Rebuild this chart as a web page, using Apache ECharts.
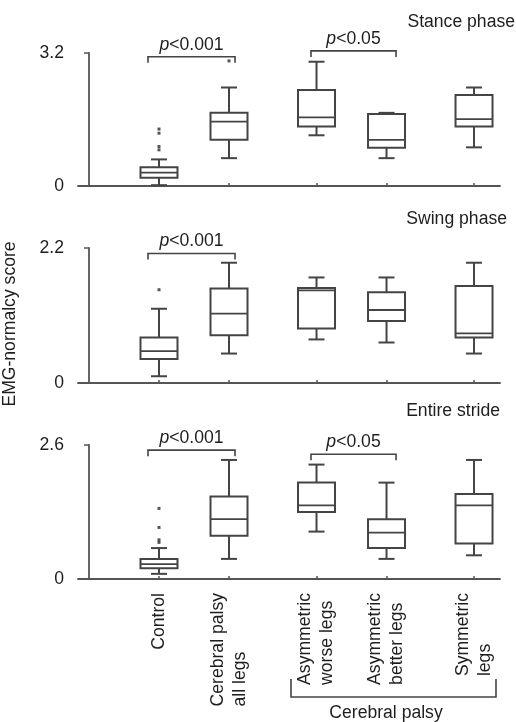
<!DOCTYPE html>
<html>
<head>
<meta charset="utf-8">
<script src="https://cdn.jsdelivr.net/npm/echarts@6/dist/echarts.min.js"></script>
<style>
html,body{margin:0;padding:0;background:#fff;}
#chart{width:516px;height:722px;}
</style>
</head>
<body>
<div id="chart"></div>
<script>
// ---------------- DATA ----------------
const categories = ['Control', 'Cerebral palsy\nall legs', 'Asymmetric\nworse legs', 'Asymmetric\nbetter legs', 'Symmetric\nlegs'];
const panelTitles = ['Stance phase', 'Swing phase', 'Entire stride'];
const yMaxTicks = [3.2, 2.2, 2.6];
const yAxisTitle = 'EMG-normalcy score';
const groupLabel = 'Cerebral palsy';

// [min, q1, median, q3, max] per category
const stanceBoxes = [
  [0.02, 0.20, 0.32, 0.45, 0.64],
  [0.67, 1.11, 1.55, 1.76, 2.37],
  [1.22, 1.43, 1.65, 2.31, 2.99],
  [0.67, 0.92, 1.11, 1.73, 1.76],
  [0.93, 1.43, 1.61, 2.19, 2.37]
];
const swingBoxes = [
  [0.11, 0.39, 0.52, 0.74, 1.21],
  [0.48, 0.78, 1.13, 1.54, 1.96],
  [0.71, 0.89, 1.51, 1.55, 1.72],
  [0.66, 1.01, 1.19, 1.48, 1.72],
  [0.48, 0.74, 0.81, 1.58, 1.96]
];
const strideBoxes = [
  [0.10, 0.21, 0.29, 0.39, 0.60],
  [0.39, 0.84, 1.16, 1.60, 2.31],
  [0.92, 1.30, 1.43, 1.87, 2.22],
  [0.39, 0.60, 0.90, 1.16, 1.87],
  [0.46, 0.69, 1.43, 1.65, 2.31]
];
// outliers: [categoryIndex, value]
const stanceOutliers = [[0, 1.37], [0, 1.27], [0, 0.95], [0, 0.87], [1, 3.01]];
const swingOutliers = [[0, 1.52]];
const strideOutliers = [[0, 1.37], [0, 1.00], [0, 0.76], [0, 0.71]];
// significance brackets: [fromCategory, toCategory, value of bracket line, label]
const stanceBrackets = [[0, 1, 3.11, 'p<0.001'], [2, 3, 3.25, 'p<0.05']];
const swingBrackets = [[0, 1, 2.11, 'p<0.001']];
const strideBrackets = [[0, 1, 2.50, 'p<0.001'], [2, 3, 2.42, 'p<0.05']];

// ---------------- LAYOUT ----------------
const xPositions = [1, 2, 3.25, 4.25, 5.5];
const xMin = -0.157, xMax = 5.871;
const bracketOffsets = [[-0.157, 0.086], [-0.079, 0.136]]; // by bracket order within panel
const gridsPx = [
  {top: 53, height: 133},
  {top: 248, height: 135},
  {top: 445, height: 134}
];
const titlePos = [{right: 1, top: 13}, {right: 9, top: 210}, {right: 16, top: 402}];
const FONT = '"Liberation Sans", Arial, Helvetica, sans-serif';
const FS = 17.6;
const TXT = '#1e1e1e';
const LINE = '#444';

const panels = [
  {boxes: stanceBoxes, outliers: stanceOutliers, brackets: stanceBrackets},
  {boxes: swingBoxes, outliers: swingOutliers, brackets: swingBrackets},
  {boxes: strideBoxes, outliers: strideOutliers, brackets: strideBrackets}
];

function renderBox(params, api) {
  const x = api.value(0);
  const pMin = api.coord([x, api.value(1)]);
  const pQ1 = api.coord([x, api.value(2)]);
  const pMed = api.coord([x, api.value(3)]);
  const pQ3 = api.coord([x, api.value(4)]);
  const pMax = api.coord([x, api.value(5)]);
  const cx = pMed[0];
  const hw = 18.5, cw = 8;
  const st = {stroke: LINE, lineWidth: 2, fill: null};
  return {
    type: 'group',
    children: [
      {type: 'line', shape: {x1: cx, y1: pMax[1], x2: cx, y2: pQ3[1]}, style: st},
      {type: 'line', shape: {x1: cx, y1: pQ1[1], x2: cx, y2: pMin[1]}, style: st},
      {type: 'line', shape: {x1: cx - cw, y1: pMax[1], x2: cx + cw, y2: pMax[1]}, style: st},
      {type: 'line', shape: {x1: cx - cw, y1: pMin[1], x2: cx + cw, y2: pMin[1]}, style: st},
      {type: 'rect', shape: {x: cx - hw, y: pQ3[1], width: 2 * hw, height: pQ1[1] - pQ3[1]}, style: {stroke: LINE, lineWidth: 2, fill: '#fff'}},
      {type: 'line', shape: {x1: cx - hw, y1: pMed[1], x2: cx + hw, y2: pMed[1]}, style: {stroke: LINE, lineWidth: 1.8}}
    ]
  };
}

function renderBracket(params, api) {
  const x1 = api.value(0), x2 = api.value(1), y = api.value(2);
  const p1 = api.coord([x1, y]);
  const p2 = api.coord([x2, y]);
  const label = bracketLabels[params.seriesIndex][params.dataIndex] || '';
  const leg = 6;
  const txt = label.replace(/^p/, '');
  return {
    type: 'group',
    children: [
      {type: 'polyline', shape: {points: [[p1[0], p1[1] + leg], [p1[0], p1[1]], [p2[0], p2[1]], [p2[0], p2[1] + leg]]},
        style: {stroke: LINE, lineWidth: 1.6, fill: null}},
      {type: 'text', x: (p1[0] + p2[0]) / 2, y: p1[1] - 12,
        style: {rich: {i: {fontStyle: 'italic', fontSize: FS, fontFamily: FONT, fill: TXT}, n: {fontSize: FS, fontFamily: FONT, fill: TXT}},
          text: '{i|p}{n|' + txt + '}', align: 'center', verticalAlign: 'middle'}}
    ]
  };
}

const bracketLabels = {};
const grid = [], xAxis = [], yAxis = [], series = [], title = [];
panels.forEach((pn, i) => {
  grid.push({left: 78, width: 422, top: gridsPx[i].top, height: gridsPx[i].height});
  const isBottom = i === panels.length - 1;
  xAxis.push({
    type: 'value', gridIndex: i, min: xMin, max: xMax,
    splitLine: {show: false},
    axisLine: {show: true, lineStyle: {color: '#555', width: 1.8}},
    axisTick: {show: true, inside: true, length: 3, customValues: xPositions, lineStyle: {color: '#555', width: 1.5}},
    axisLabel: isBottom ? {
      show: true, customValues: xPositions, rotate: 90, margin: 14,
      fontSize: FS, fontFamily: FONT, color: TXT, lineHeight: 22,
      formatter: v => {
        const k = xPositions.indexOf(v);
        if (k < 0) return '';
        return categories[k].split('\n').map(s => '{l|' + s + '}').join('\n');
      },
      rich: {l: {align: 'left', fontSize: FS, fontFamily: FONT, color: TXT, lineHeight: 22}}
    } : {show: false}
  });
  yAxis.push({
    type: 'value', gridIndex: i, min: 0, max: yMaxTicks[i], interval: yMaxTicks[i],
    splitLine: {show: false},
    axisLine: {show: true, lineStyle: {color: '#555', width: 1.8}},
    axisTick: {show: true, length: 5, lineStyle: {color: '#555', width: 1.5}},
    axisLabel: {fontSize: FS, fontFamily: FONT, color: TXT, margin: 14}
  });
  title.push({text: panelTitles[i], right: titlePos[i].right, top: titlePos[i].top, padding: 0,
    textStyle: {fontSize: FS, fontWeight: 'normal', fontFamily: FONT, color: TXT}});

  series.push({
    type: 'custom', xAxisIndex: i, yAxisIndex: i, renderItem: renderBox, clip: false,
    data: pn.boxes.map((b, k) => [xPositions[k]].concat(b))
  });
  series.push({
    type: 'scatter', xAxisIndex: i, yAxisIndex: i, symbol: 'rect', symbolSize: 3,
    itemStyle: {color: '#2a2a2a'}, clip: false,
    data: pn.outliers.map(o => [xPositions[o[0]], o[1]])
  });
  bracketLabels[series.length] = pn.brackets.map(b => b[3]);
  series.push({
    type: 'custom', xAxisIndex: i, yAxisIndex: i, renderItem: renderBracket, clip: false,
    data: pn.brackets.map((b, k) => [xPositions[b[0]] + bracketOffsets[k][0], xPositions[b[1]] + bracketOffsets[k][1], b[2]])
  });
});

const chart = echarts.init(document.getElementById('chart'), null, {renderer: 'canvas'});
chart.setOption({
  animation: false,
  backgroundColor: '#fff',
  title: title,
  grid: grid,
  xAxis: xAxis,
  yAxis: yAxis,
  series: series,
  graphic: [
    {type: 'text', x: 10, y: 324, rotation: Math.PI / 2,
      style: {text: yAxisTitle, fontSize: FS, fontFamily: FONT, fill: TXT, align: 'center', verticalAlign: 'middle'}},
    {type: 'polyline', shape: {points: [[291, 679], [291, 697], [496, 697], [496, 679]]},
      style: {stroke: LINE, lineWidth: 1.6, fill: null}},
    {type: 'text', x: 386, y: 713,
      style: {text: groupLabel, fontSize: FS, fontFamily: FONT, fill: TXT, align: 'center', verticalAlign: 'middle'}}
  ]
});
</script>
</body>
</html>
